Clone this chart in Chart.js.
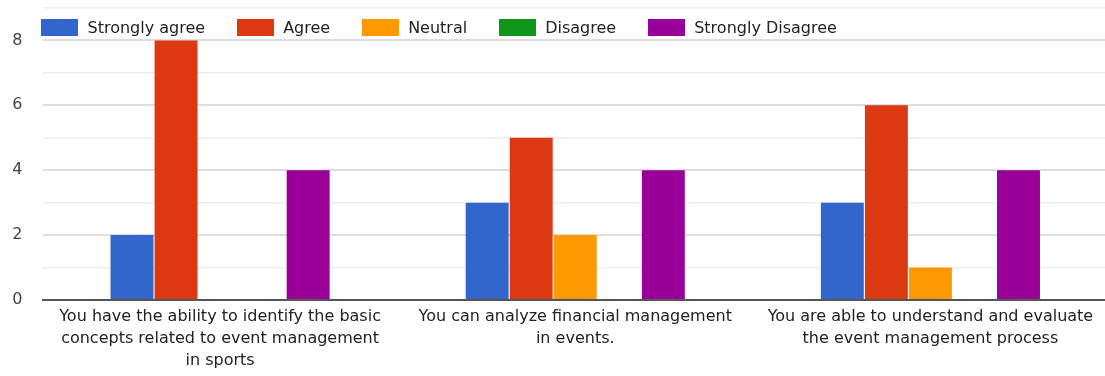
<!DOCTYPE html>
<html>
<head>
<meta charset="utf-8">
<script src="https://cdn.jsdelivr.net/npm/chart.js@4.4.1/dist/chart.umd.min.js"></script>
<style>
  html, body { margin: 0; padding: 0; background: #fff; overflow: hidden; }
  #wrap { position: relative; width: 1108px; height: 376px; }
  #legend {
    position: absolute; left: 41px; top: 18px; display: flex; align-items: center;
    font-family: "DejaVu Sans", sans-serif; font-size: 16px; color: #222; line-height: 19px;
  }
  #legend .item { display: flex; align-items: center; margin-right: 31.5px; }
  #legend .box { width: 37px; height: 17px; margin-right: 9.5px; }
</style>
</head>
<body>
<div id="wrap">
  <canvas id="chart"></canvas>
  <div id="legend"></div>
</div>
<script>
// Survey statements (x-axis categories), one line per array entry
const categories = [
  ["You have the ability to identify the basic", "concepts related to event management", "in sports"],
  ["You can analyze financial management", "in events."],
  ["You are able to understand and evaluate", "the event management process"]
];

// Response counts per answer option
const stronglyAgree    = [2, 3, 3];
const agree            = [8, 5, 6];
const neutral          = [0, 2, 1];
const disagree         = [0, 0, 0];
const stronglyDisagree = [4, 4, 4];

const seriesNames  = ["Strongly agree", "Agree", "Neutral", "Disagree", "Strongly Disagree"];
const seriesColors = ["#3366cc", "#dc3912", "#ff9900", "#109618", "#990099"];
const seriesValues = [stronglyAgree, agree, neutral, disagree, stronglyDisagree];

// Y axis: 0..9 with labels on even steps
const yMin = 0, yMax = 9;
const yLabelValues = [0, 2, 4, 6, 8];

const datasets = seriesNames.map((name, i) => ({
  label: name,
  data: seriesValues[i],
  backgroundColor: seriesColors[i],
  borderWidth: 0,
  categoryPercentage: 0.62,
  barPercentage: 0.975
}));

// HTML legend
const legendEl = document.getElementById('legend');
seriesNames.forEach((name, i) => {
  const item = document.createElement('div');
  item.className = 'item';
  const box = document.createElement('span');
  box.className = 'box';
  box.style.background = seriesColors[i];
  const txt = document.createElement('span');
  txt.textContent = name;
  item.appendChild(box);
  item.appendChild(txt);
  legendEl.appendChild(item);
});

const font = { family: "'DejaVu Sans', sans-serif", size: 16 };

new Chart(document.getElementById('chart'), {
  type: 'bar',
  data: { labels: categories, datasets },
  options: {
    responsive: true,
    maintainAspectRatio: false,
    animation: false,
    layout: { padding: { top: 8, right: 0, bottom: 0, left: 0 } },
    plugins: { legend: { display: false }, tooltip: { enabled: false } },
    scales: {
      x: {
        grid: { display: false },
        border: { display: true, color: '#555', width: 2 },
        ticks: {
          color: '#222', font: { ...font, lineHeight: 1.375 },
          padding: -2, maxRotation: 0, autoSkip: false
        },
        afterFit: (s) => { s.height = 76; }
      },
      y: {
        min: yMin, max: yMax,
        border: { display: false },
        grid: {
          drawTicks: false,
          color: (c) => c.tick.value === 0 ? 'rgba(0,0,0,0)' : (c.tick.value % 2 === 0 ? '#dedede' : '#eeeeee'),
          lineWidth: (c) => c.tick.value % 2 === 0 ? 2 : 1.5
        },
        ticks: {
          stepSize: 1, color: '#444', font, padding: 20,
          callback: (v) => yLabelValues.includes(v) ? String(v) : ''
        },
        afterFit: (s) => { s.width = 42.5; s.paddingTop = 0; s.paddingBottom = 0; }
      }
    }
  }
});
</script>
</body>
</html>
